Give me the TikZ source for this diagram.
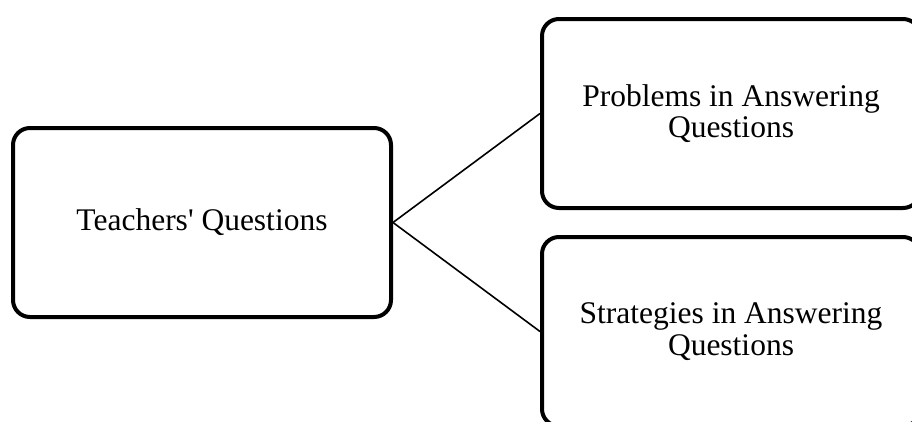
\documentclass[tikz,border=0pt]{standalone}
\usepackage{fontspec}
\setmainfont{Liberation Serif}
\begin{document}
\begin{tikzpicture}[x=1pt,y=-1pt,
  topicbox/.style={draw=black, line width=4pt, rounded corners=17pt,
    minimum width=378pt, minimum height=189pt, align=center,
    font=\fontsize{31.5}{31.5}\selectfont, inner sep=0pt},
  link/.style={draw=black, line width=1.6pt}]
\useasboundingbox (0,0) rectangle (912,421);
\fill[white] (0,0) rectangle (912,421);
\node[topicbox] (tq) at (202,222.5) {Teachers\textquotesingle{} Questions};
\node[topicbox] (pa) at (731,113.5) {Problems in Answering\\Questions};
\node[topicbox] (sa) at (731,331.5) {Strategies in Answering\\Questions};
\draw[link] (tq.east) -- (pa.west);
\draw[link] (tq.east) -- (sa.west);
\end{tikzpicture}
\end{document}
